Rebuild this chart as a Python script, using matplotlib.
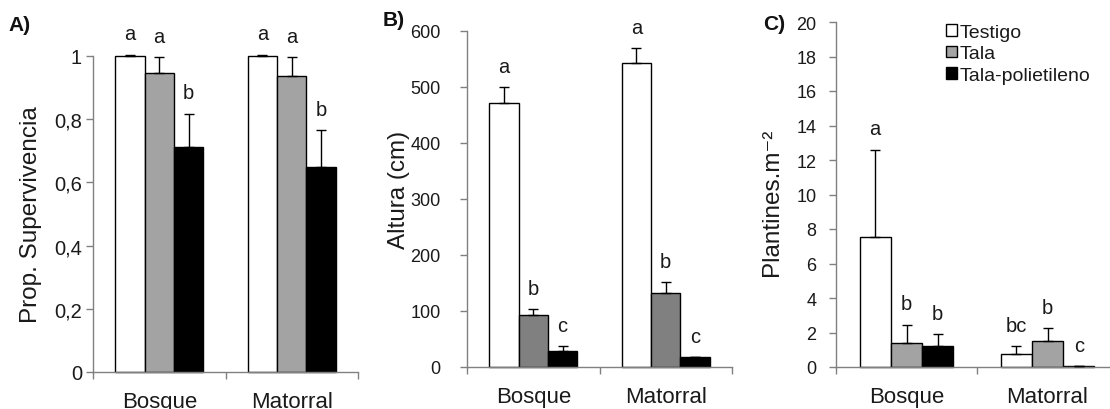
import numpy as np
import matplotlib.pyplot as plt
from matplotlib.patches import Patch
import matplotlib
matplotlib.rcParams['font.family'] = ['Liberation Sans', 'DejaVu Sans']

categorias = ['Bosque', 'Matorral']
tratamientos = ['Testigo', 'Tala', 'Tala-polietileno']

# A) proporcion de supervivencia
superv_testigo = [1.0, 1.0]
superv_tala = [0.947, 0.938]
superv_poli = [0.712, 0.649]
superv_err_testigo = [0.004, 0.004]
superv_err_tala = [0.05, 0.058]
superv_err_poli = [0.106, 0.116]
superv_letras = [['a', 'a', 'b'], ['a', 'a', 'b']]

# B) altura (cm)
altura_testigo = [472, 543]
altura_tala = [92, 133]
altura_poli = [29, 18]
altura_err_testigo = [28, 27]
altura_err_tala = [11, 19]
altura_err_poli = [8, 0]
altura_letras = [['a', 'b', 'c'], ['a', 'b', 'c']]

# C) plantines por m2
plant_testigo = [7.56, 0.77]
plant_tala = [1.39, 1.49]
plant_poli = [1.22, 0.06]
plant_err_testigo = [5.04, 0.45]
plant_err_tala = [1.06, 0.77]
plant_err_poli = [0.69, 0.0]
plant_letras = [['a', 'b', 'b'], ['bc', 'b', 'c']]

W = 1110
H = 410
eje_gris = '#808080'
texto = '#1a1a1a'


def panel(rect, medias, errores, letras, gris, ylim, yticks, yticklabels,
          ylabel, label_xy, tick_pad, tick_size):
    ax = fig.add_axes(rect)
    x = np.arange(len(categorias))
    w = 0.222
    colores = ['white', gris, 'black']
    for j in range(3):
        pos = x + (j - 1) * w
        ax.bar(pos, medias[j], w, color=colores[j], edgecolor='black',
               linewidth=1, zorder=2, clip_on=False)
        eb = ax.errorbar(pos, medias[j], yerr=[np.zeros(len(x)), errores[j]],
                         fmt='none', ecolor='black', elinewidth=1, capsize=3.6,
                         capthick=1, zorder=3)
        for art in eb.lines[1] + eb.lines[2]:
            art.set_clip_on(False)
        for i in range(len(x)):
            ax.annotate(letras[i][j], (pos[i], medias[j][i] + errores[j][i]),
                        xytext=(0, 11), textcoords='offset points',
                        ha='center', va='baseline', fontsize=14.5, color=texto,
                        annotation_clip=False)
    ax.set_xlim(-0.5, 1.5)
    ax.set_ylim(*ylim)
    ax.set_yticks(yticks)
    ax.set_yticklabels(yticklabels)
    ax.set_xticks(x)
    ax.set_xticklabels(categorias)
    ax.set_xticks([-0.5, 0.5, 1.5], minor=True)
    ax.tick_params(axis='x', which='major', length=0, pad=14, labelsize=16,
                   labelcolor=texto)
    ax.tick_params(axis='x', which='minor', length=5, color=eje_gris, width=1)
    ax.tick_params(axis='y', length=5, color=eje_gris, width=1, pad=tick_pad,
                   labelsize=tick_size, labelcolor=texto)
    for s in ['top', 'right']:
        ax.spines[s].set_visible(False)
    for s in ['left', 'bottom']:
        ax.spines[s].set_color(eje_gris)
        ax.spines[s].set_linewidth(1)
    ax.set_ylabel(ylabel, fontsize=17.5, color=texto, va='center')
    ax.yaxis.set_label_coords(*label_xy)
    return ax


fig = plt.figure(figsize=(11.1, 4.1), dpi=100)

panel([93 / W, 37 / H, 265 / W, 316 / H],
      [superv_testigo, superv_tala, superv_poli],
      [superv_err_testigo, superv_err_tala, superv_err_poli],
      superv_letras, '#a3a3a3', (0, 1), [0, 0.2, 0.4, 0.6, 0.8, 1],
      ['0', '0,2', '0,4', '0,6', '0,8', '1'],
      'Prop. Supervivencia', (-0.234, 0.5), 3, 14.5)

panel([467 / W, 42 / H, 265 / W, 336 / H],
      [altura_testigo, altura_tala, altura_poli],
      [altura_err_testigo, altura_err_tala, altura_err_poli],
      altura_letras, '#808080', (0, 600), range(0, 601, 100),
      [str(v) for v in range(0, 601, 100)],
      'Altura (cm)', (-0.257, 0.531), 14, 13)

axc = panel([836 / W, 42 / H, 282 / W, 345 / H],
            [plant_testigo, plant_tala, plant_poli],
            [plant_err_testigo, plant_err_tala, plant_err_poli],
            plant_letras, '#a3a3a3', (0, 20), range(0, 21, 2),
            [str(v) for v in range(0, 21, 2)],
            'Plantines.m\u207b\u00b2', (-0.227, 0.481), 9, 13)

manijas = [Patch(facecolor=c, edgecolor='black', linewidth=1)
           for c in ['white', '#a3a3a3', 'black']]
axc.legend(manijas, tratamientos, loc='upper left',
           bbox_to_anchor=(946 / W, 1 - 25 / H),
           bbox_transform=fig.transFigure, frameon=False, fontsize=14,
           handlelength=0.55, handleheight=0.55, handletextpad=0.15,
           labelspacing=0.22, borderpad=0, borderaxespad=0,
           labelcolor=texto)

fig.text(8 / W, 1 - 16 / H, 'A)', fontsize=15, fontweight='bold',
         va='top', ha='left', color='#111111')
fig.text(383 / W, 1 - 11 / H, 'B)', fontsize=15, fontweight='bold',
         va='top', ha='left', color='#111111')
fig.text(763 / W, 1 - 15 / H, 'C)', fontsize=15, fontweight='bold',
         va='top', ha='left', color='#111111')

plt.savefig('out.png', dpi=100)
